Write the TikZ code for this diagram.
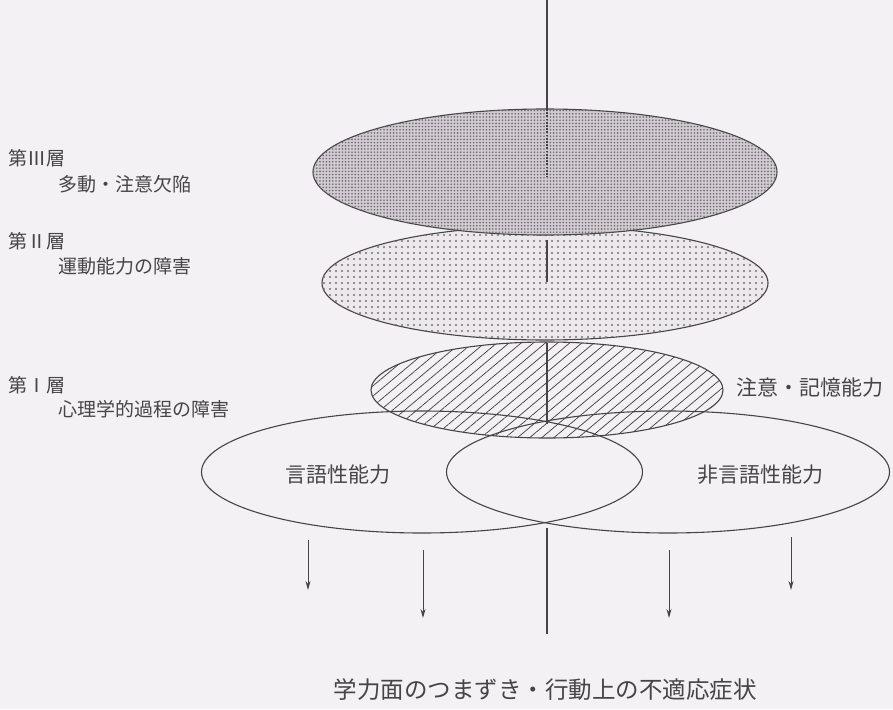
\documentclass[tikz,border=0pt]{standalone}
\usepackage{fontspec}
\newfontfamily\cjk{Noto Sans CJK JP}
\usetikzlibrary{patterns.meta,arrows.meta,shapes.geometric}
\definecolor{bgc}{HTML}{F3F1F3}
\definecolor{ink}{HTML}{474447}
\definecolor{fillthree}{HTML}{D2CBD3}
\definecolor{filltwo}{HTML}{ECE8EC}
\tikzset{
  outl/.style={draw=ink, line width=1.1pt},
  layer/.style={ellipse, inner sep=0pt, outl},
  lbl/.style={text=ink, inner sep=0pt, font=\cjk\fontsize{19}{22}\selectfont},
  biglbl/.style={text=ink, inner sep=0pt, font=\cjk\fontsize{21}{24}\selectfont},
  botlbl/.style={text=ink, inner sep=0pt, font=\cjk\fontsize{23.5}{26}\selectfont},
  axis/.style={draw=ink, line width=1.1pt},
  beads/.style={draw=ink, line width=2.6pt, dash pattern=on 1.7pt off 1.5pt},
  arr/.style={draw=ink, line width=1pt, -{Stealth[length=9pt,width=5pt]}}
}
\begin{document}
\begin{tikzpicture}[x=1pt,y=-1pt]
\useasboundingbox[fill=bgc] (0,0) rectangle (893,709);

% Layer II
\node[layer, minimum width=446pt, minimum height=114pt, fill=filltwo,
      postaction={pattern={Dots[distance=6pt,radius=1.1pt]}, pattern color=ink!75}] (L2) at (545,283) {};
% Layer III
\node[layer, minimum width=464pt, minimum height=126pt, fill=fillthree,
      postaction={pattern={Dots[distance=3.2pt,radius=0.9pt]}, pattern color=ink!80}] (L3) at (545,172) {};
% Layer I (hatched)
\node[layer, minimum width=352pt, minimum height=96pt, fill=bgc,
      postaction={pattern={Lines[angle=40,distance=7.8pt,line width=0.75pt]}, pattern color=ink}] (L1) at (547,390) {};
% verbal / non-verbal
\node[layer, minimum width=441pt, minimum height=122pt] (V) at (422,472) {};
\node[layer, minimum width=443pt, minimum height=122pt] (NV) at (668,472) {};

% central axis
\coordinate (t0) at (547,0);
\coordinate (t1) at (547,109);
\coordinate (t2) at (547,177);
\coordinate (m1) at (547,240);
\coordinate (m2) at (547,282);
\coordinate (h1) at (547,343);
\coordinate (h2) at (547,424);
\coordinate (b1) at (547,528);
\coordinate (b2) at (547,634);
\draw[axis] (t0) -- (t1);
\draw[beads] (t1) -- (t2);
\draw[axis] (m1) -- (m2);
\draw[axis] (h1) -- (h2);
\draw[axis] (b1) -- (b2);

% arrows
\coordinate (a1s) at (308,540); \coordinate (a1e) at (308,590);
\coordinate (a2s) at (423,550); \coordinate (a2e) at (423,618);
\coordinate (a3s) at (669,550); \coordinate (a3e) at (669,618);
\coordinate (a4s) at (791,537); \coordinate (a4e) at (791,590);
\draw[arr] (a1s) -- (a1e);
\draw[arr] (a2s) -- (a2e);
\draw[arr] (a3s) -- (a3e);
\draw[arr] (a4s) -- (a4e);

% labels
\node[lbl, anchor=west] (n3a) at (8,158) {第Ⅲ層};
\node[lbl, anchor=west] (n3b) at (58,184) {多動・注意欠陥};
\node[lbl, anchor=west] (n2a) at (8,241) {第Ⅱ層};
\node[lbl, anchor=west] (n2b) at (58,266) {運動能力の障害};
\node[lbl, anchor=west] (n1a) at (8,385) {第Ⅰ層};
\node[lbl, anchor=west] (n1b) at (58,409) {心理学的過程の障害};
\node[biglbl, anchor=west] (att) at (736,388) {注意・記憶能力};
\node[biglbl] (vl) at (338,475) {言語性能力};
\node[biglbl] (nvl) at (760,475) {非言語性能力};
\node[botlbl] (res) at (545,690) {学力面のつまずき・行動上の不適応症状};
\end{tikzpicture}
\end{document}
